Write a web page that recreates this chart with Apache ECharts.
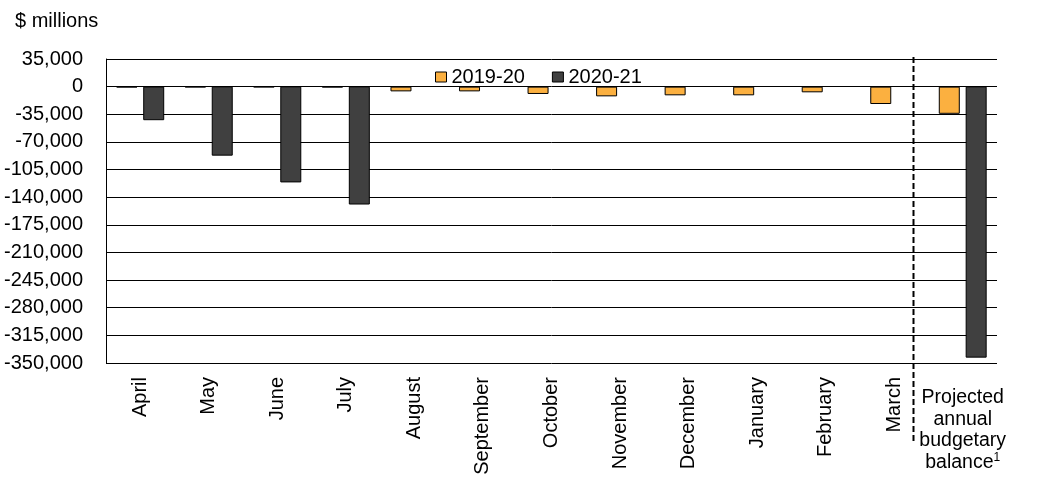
<!DOCTYPE html>
<html>
<head>
<meta charset="utf-8">
<script src="https://cdn.jsdelivr.net/npm/echarts@6/dist/echarts.min.js"></script>
<style>html,body{margin:0;padding:0;background:#fff}#c{width:1046px;height:502px}</style>
</head>
<body>
<div id="c"></div>
<script>
var categories = ['April','May','June','July','August','September','October','November','December','January','February','March','Projected annual budgetary balance'];
var s2019 = [-900, -800, -700, -900, -6000, -6000, -9300, -12300, -11000, -11000, -7200, -22000, -34400];
var s2020 = [-42500, -87400, -121300, -149300, null, null, null, null, null, null, null, null, -343200];
var yTicks = { min: -350000, max: 35000, interval: 35000 };
var separatorPos = 11.78;

var FONT = '"Liberation Sans", Arial, sans-serif';
var chart = echarts.init(document.getElementById('c'), null, { renderer: 'canvas' });
var last = categories.length - 1;
var option = {
  animation: false,
  backgroundColor: '#fff',
  textStyle: { fontFamily: FONT, color: '#000' },
  title: { text: '$ millions', left: 15, top: 11, padding: 0,
    textStyle: { fontFamily: FONT, fontSize: 20, fontWeight: 'normal', color: '#000' } },
  legend: {
    left: 430, top: 62, itemWidth: 11, itemHeight: 10, itemGap: 27,
    textStyle: { fontFamily: FONT, fontSize: 20, color: '#000' },
    data: [
      { name: '2019-20', icon: 'rect', itemStyle: { borderColor: '#000', borderWidth: 1 } },
      { name: '2020-21', icon: 'rect', itemStyle: { borderColor: '#000', borderWidth: 1 } }
    ]
  },
  grid: { left: 106, right: 49, top: 59, bottom: 139, containLabel: false },
  xAxis: [
    { type: 'category', data: categories, gridIndex: 0,
      axisLine: { show: false, onZero: false }, axisTick: { show: false }, splitLine: { show: false },
      axisLabel: { rotate: 90, margin: 14, interval: 0, fontFamily: FONT, fontSize: 20, color: '#000',
        formatter: function (v, i) { return i === last ? '' : v; } } },
    { type: 'category', data: categories, gridIndex: 0, position: 'bottom',
      axisLine: { show: false, onZero: false }, axisTick: { show: false }, splitLine: { show: false },
      axisLabel: { rotate: 0, margin: 24, interval: 0, fontFamily: FONT, fontSize: 19.5, lineHeight: 21.5, color: '#000',
        formatter: function (v, i) { return i === last ? 'Projected\nannual\nbudgetary\nbalance{sup|1}' : ''; },
        rich: { sup: { fontFamily: FONT, fontSize: 12, lineHeight: 14, verticalAlign: 'top', color: '#000' } } } },
    { type: 'value', min: 0, max: categories.length, show: false, gridIndex: 0 }
  ],
  yAxis: {
    type: 'value', min: yTicks.min, max: yTicks.max, interval: yTicks.interval,
    axisLine: { show: true, lineStyle: { color: '#000', width: 1 } },
    axisTick: { show: false },
    splitLine: { show: true, lineStyle: { color: '#000', width: 1 } },
    axisLabel: { margin: 23, fontFamily: FONT, fontSize: 20, color: '#000',
      formatter: function (v) { return v.toLocaleString('en-US'); } }
  },
  series: [
    { name: '2019-20', type: 'bar', xAxisIndex: 0, data: s2019, barWidth: 21, barGap: '28%',
      itemStyle: { color: '#FBB040', borderColor: '#000', borderWidth: 1 } },
    { name: '2020-21', type: 'bar', xAxisIndex: 0, data: s2020, barWidth: 21, barGap: '28%',
      itemStyle: { color: '#404040', borderColor: '#000', borderWidth: 1 } }
  ]
};
chart.setOption(option);
var sx = Math.round(chart.convertToPixel({ xAxisIndex: 2 }, separatorPos)) + 0.5;
chart.setOption({
  graphic: [{ type: 'line', z: 100, shape: { x1: sx, y1: 57, x2: sx, y2: 442 },
    style: { stroke: '#000', lineWidth: 2, lineDash: [6, 3] } }]
});
</script>
</body>
</html>
